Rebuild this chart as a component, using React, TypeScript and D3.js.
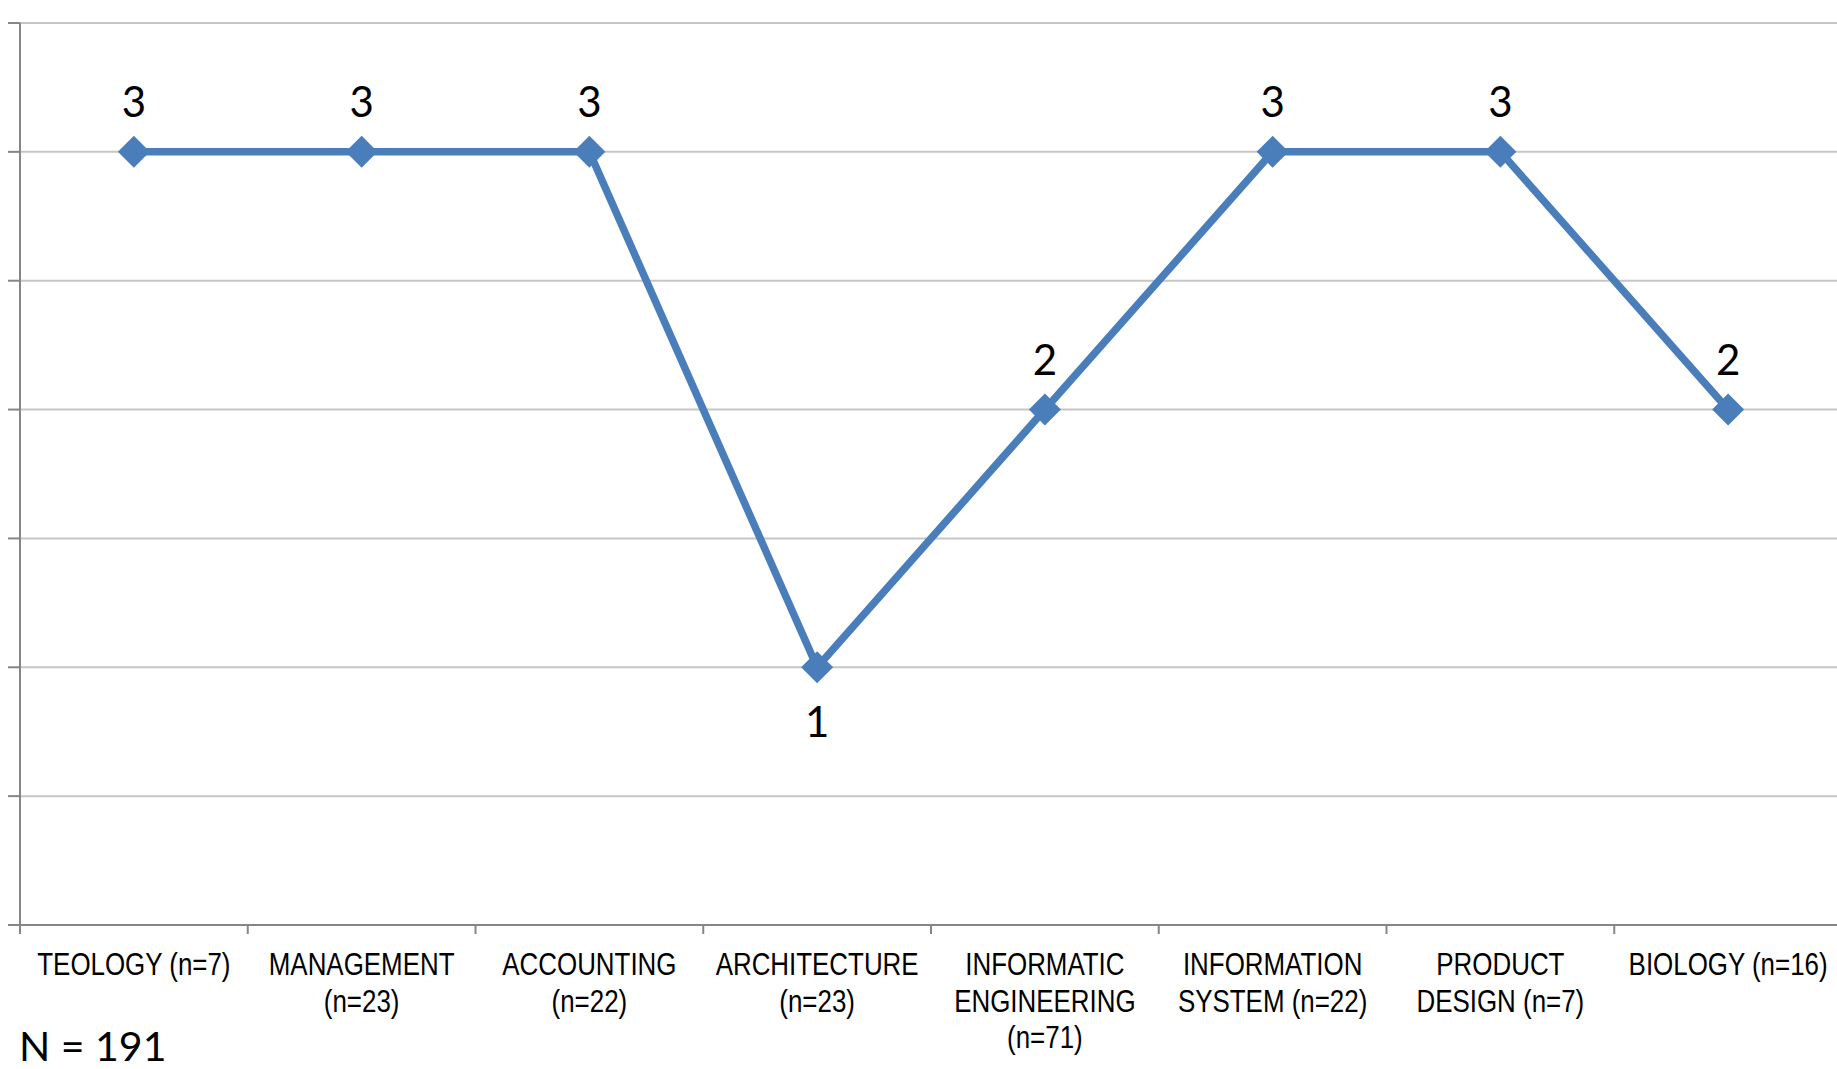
import React from "react";
import * as d3 from "d3";

// Programme names (each inner array is one wrapped line of the axis label)
const categories: string[] = [
  "TEOLOGY",
  "MANAGEMENT",
  "ACCOUNTING",
  "ARCHITECTURE",
  "INFORMATIC ENGINEERING",
  "INFORMATION SYSTEM",
  "PRODUCT DESIGN",
  "BIOLOGY",
];
const categoryLines: string[][] = [
  ["TEOLOGY (n=7)"],
  ["MANAGEMENT", "(n=23)"],
  ["ACCOUNTING", "(n=22)"],
  ["ARCHITECTURE", "(n=23)"],
  ["INFORMATIC", "ENGINEERING", "(n=71)"],
  ["INFORMATION", "SYSTEM (n=22)"],
  ["PRODUCT", "DESIGN (n=7)"],
  ["BIOLOGY (n=16)"],
];
const values: number[] = [3, 3, 3, 1, 2, 3, 3, 2];
const yTicks: number[] = [0, 0.5, 1, 1.5, 2, 2.5, 3, 3.5];
const footnote = "N = 191";

const W = 1837;
const H = 1069;
const left = 20;
const right = 1842;
const top = 23;
const bottom = 925;
const blue = "#4A7EBB";

export default function App() {
  const x = d3.scaleBand<string>().domain(categories).range([left, right]).padding(0);
  const y = d3.scaleLinear().domain([0, 3.5]).range([bottom, top]);
  const cx = (c: string) => (x(c) as number) + x.bandwidth() / 2;

  const line = d3
    .line<number>()
    .x((_, i) => cx(categories[i]))
    .y((v) => y(v));

  const boundaries = categories.map((c) => x(c) as number).concat([right]);

  const diamond = (px: number, py: number, r: number) =>
    `M${px},${py - r}L${px + r},${py}L${px},${py + r}L${px - r},${py}Z`;

  return (
    <svg
      width={W}
      height={H}
      style={{ position: "absolute", left: 0, top: 0, background: "#fff" }}
    >
      {/* horizontal gridlines */}
      {yTicks
        .filter((t) => t > 0)
        .map((t) => (
          <line key={"g" + t} x1={left} x2={W} y1={y(t)} y2={y(t)} stroke="#c6c6c6" strokeWidth={2} />
        ))}
      {/* y axis with outward ticks */}
      <line x1={left} x2={left} y1={top} y2={bottom} stroke="#868686" strokeWidth={2} />
      {yTicks.map((t) => (
        <line key={"yt" + t} x1={8} x2={left} y1={y(t)} y2={y(t)} stroke="#868686" strokeWidth={2} />
      ))}
      {/* x axis with category boundary ticks */}
      <line x1={8} x2={W} y1={bottom} y2={bottom} stroke="#868686" strokeWidth={2} />
      {boundaries.map((b, i) => (
        <line key={"xt" + i} x1={b} x2={b} y1={bottom} y2={bottom + 9} stroke="#868686" strokeWidth={2} />
      ))}
      {/* category labels */}
      {categories.map((c, i) =>
        categoryLines[i].map((ln, j) => (
          <text
            key={c + j}
            transform={`translate(${cx(c)},${975 + j * 36.5}) scale(0.81,1)`}
            textAnchor="middle"
            fontFamily="'Liberation Sans', Arial, sans-serif"
            fontSize={32}
            fill="#000"
          >
            {ln}
          </text>
        ))
      )}
      {/* series line */}
      <path d={line(values) || ""} fill="none" stroke={blue} strokeWidth={7.5} strokeLinejoin="round" />
      {values.map((v, i) => (
        <path key={"m" + i} d={diamond(cx(categories[i]), y(v), 16)} fill={blue} />
      ))}
      {/* value labels: below at interior dips, above otherwise */}
      {values.map((v, i) => {
        const interior = i > 0 && i < values.length - 1;
        const below = interior && v < values[i - 1] && v < values[i + 1];
        return (
          <text
            key={"l" + i}
            x={cx(categories[i])}
            y={below ? y(v) + 70 : y(v) - 35}
            textAnchor="middle"
            fontFamily="Lato, 'Open Sans', sans-serif"
            fontSize={42}
            fill="#000"
          >
            {v}
          </text>
        );
      })}
      <text x={19} y={1061} fontFamily="Lato, 'Open Sans', sans-serif" fontSize={41} fill="#000">
        {footnote}
      </text>
    </svg>
  );
}
